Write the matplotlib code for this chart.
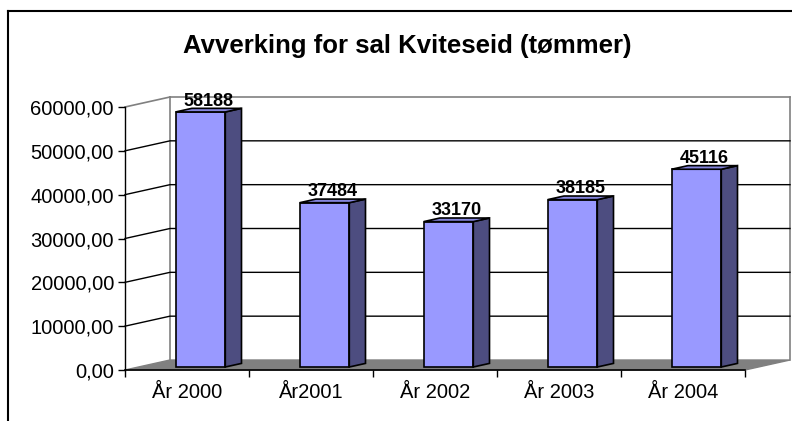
import matplotlib
matplotlib.use("Agg")
import matplotlib.pyplot as plt
from matplotlib.lines import Line2D

plt.rcParams['font.family'] = ['Liberation Sans', 'DejaVu Sans']

# Data
categories = ["År 2000", "År2001", "År 2002", "År 2003", "År 2004"]
values = [58188, 37484, 33170, 38185, 45116]
yticks = [0, 10000, 20000, 30000, 40000, 50000, 60000]
title = "Avverking for sal Kviteseid (tømmer)"

W, H = 792, 421
fig = plt.figure(figsize=(W / 100, H / 100), dpi=100)
fig.patch.set_facecolor("white")

# front plane of the fake-3D chart, in pixels
ax = fig.add_axes([125 / W, (H - 370) / H, 620 / W, 263 / H])
ax.set_xlim(-0.5, len(values) - 0.5)
ax.set_ylim(0, 60000)
ax.patch.set_alpha(0)
for s in ["top", "right"]:
    ax.spines[s].set_visible(False)
ax.spines["left"].set_linewidth(1.0)
ax.spines["bottom"].set_linewidth(1.2)

# depth vector (data units): 45 px right, 10 px up
DX = 45 / 124
DY = 10 / 263 * 60000
xl, xr = -0.5, len(values) - 0.5
top = 60000

# floor
ax.fill([xl, xr, xr + DX, xl + DX], [0, 0, DY, DY], color="#808080",
        zorder=1, clip_on=False)

# walls and gridlines
wall = dict(color="#808080", lw=1.2, clip_on=False, zorder=1)
ax.plot([xl + DX, xl + DX], [DY, top + DY], **wall)
ax.plot([xr + DX, xr + DX], [DY, top + DY], **wall)
ax.plot([xl + DX, xr + DX], [top + DY, top + DY], **wall)
ax.plot([xl, xl + DX], [top, top + DY], **wall)
for v in yticks[1:-1]:
    ax.plot([xl, xl + DX, xr + DX], [v, v + DY, v + DY], color="black",
            lw=1.0, clip_on=False, zorder=1)

# bars
f0, f1 = 0.30, 0.66
bw = 0.4
xs = [i + f0 * DX for i in range(len(values))]
ax.bar(xs, values, width=bw, bottom=f0 * DY, color="#9999ff",
       edgecolor="black", lw=1.2, zorder=3)
ddx, ddy = (f1 - f0) * DX, (f1 - f0) * DY
for x, v in zip(xs, values):
    x0, x1 = x - bw / 2, x + bw / 2
    yb, yt = f0 * DY, v + f0 * DY
    ax.fill([x1, x1, x1 + ddx, x1 + ddx], [yb, yt, yt + ddy, yb + ddy],
            facecolor="#4d4d80", edgecolor="black", lw=1.2, zorder=3)
    ax.fill([x0, x1, x1 + ddx, x0 + ddx], [yt, yt, yt + ddy, yt + ddy],
            facecolor="#8585dd", edgecolor="black", lw=1.2, zorder=3)
    ax.text(x + ddx / 2, yt + ddy - 300, f"{v}", ha="center", va="bottom",
            fontsize=13, fontweight="bold", zorder=4)

# axes ticks
ax.set_yticks(yticks)
ax.set_yticklabels([f"{v},00" for v in yticks], fontsize=14.5)
ax.tick_params(axis="y", direction="out", length=5, width=1, pad=3)
ax.set_xticks([i - 0.5 for i in range(len(values) + 1)])
ax.set_xticklabels([])
ax.set_xticks(range(len(values)), minor=True)
ax.set_xticklabels(categories, minor=True, fontsize=14.5)
ax.tick_params(axis="x", which="major", direction="out", length=5, width=1)
ax.tick_params(axis="x", which="minor", length=0, pad=9)

# chart frame (cropped at right and bottom)
fig.add_artist(Line2D([8 / W, 1], [1 - 11 / H, 1 - 11 / H], color="black",
                      lw=1.5, transform=fig.transFigure))
fig.add_artist(Line2D([8 / W, 8 / W], [0, 1 - 11 / H], color="black",
                      lw=1.5, transform=fig.transFigure))

fig.text(407 / W, 1 - 46 / H, title, ha="center", va="center",
         fontsize=18.5, fontweight="bold")

fig.savefig("out.png", dpi=100)
